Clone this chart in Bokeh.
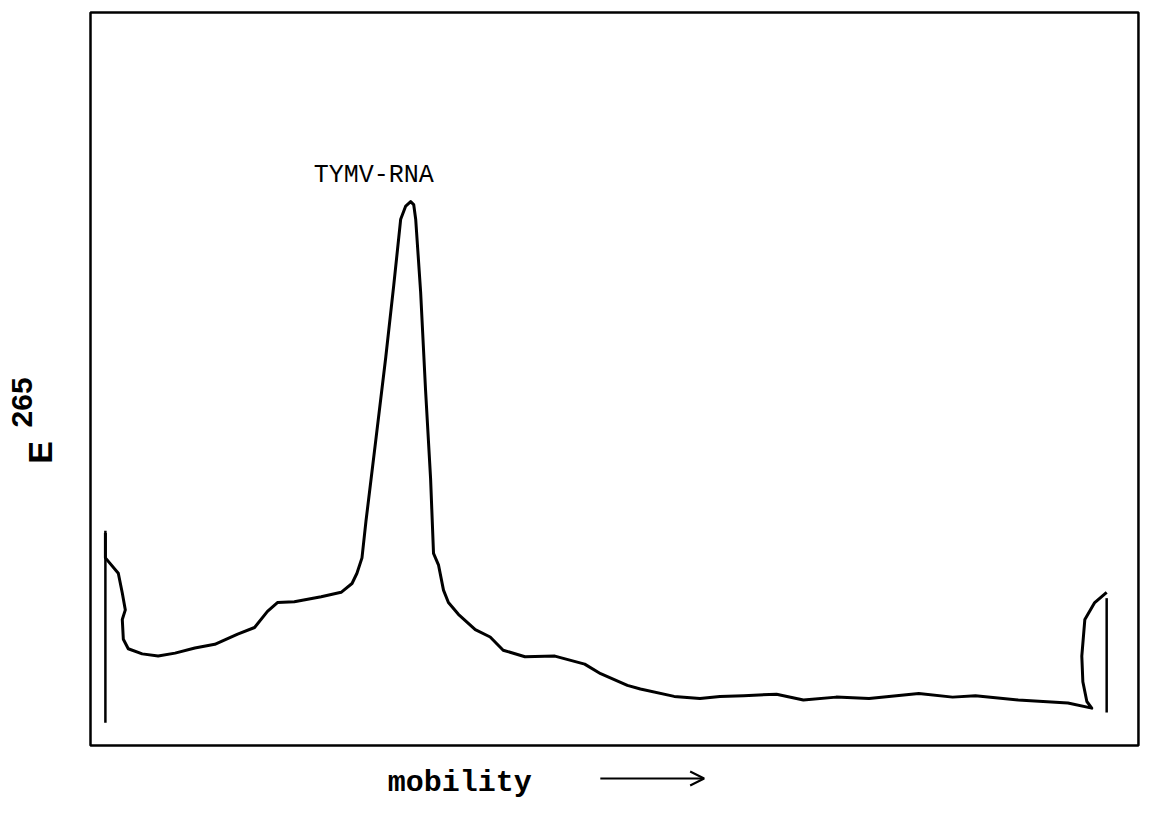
import math
from bokeh.plotting import figure
from bokeh.models import Arrow, OpenHead, Range1d
from bokeh.core.properties import value
from bokeh.embed import file_html
from bokeh.resources import INLINE

# ---- data (mobility in % of lane, E265 in arbitrary units) ----
mobility = [1.42, 1.42, 2.65, 3.03, 3.32, 3.03, 3.13, 3.60, 4.93, 6.45, 8.06, 9.95,
            11.85, 14.03, 15.64, 16.87, 17.82, 19.43, 21.99, 23.89, 24.93, 25.40, 25.88,
            26.26, 27.20, 28.15, 28.91, 29.57, 30.05, 30.52, 30.81, 31.00, 31.47, 31.94,
            32.42, 32.70, 33.18, 33.65, 34.12, 35.07, 36.68, 38.10, 39.34, 41.42, 44.27,
            47.11, 48.63, 51.18, 52.42, 55.64, 58.10, 60.00, 62.27, 65.40, 67.96, 71.09,
            74.22, 78.96, 82.18, 84.36, 88.44, 93.18, 95.45, 94.98, 94.60, 94.50, 94.79,
            95.73, 96.87]
absorbance = [29.0, 25.6, 23.5, 20.8, 18.5, 17.2, 14.5, 13.2, 12.5, 12.2, 12.6, 13.3,
              13.8, 15.2, 16.1, 18.3, 19.5, 19.6, 20.3, 20.9, 22.1, 23.5, 25.6,
              30.6, 41.7, 53.0, 62.8, 71.8, 73.6, 74.2, 73.8, 71.8, 61.9, 48.5,
              36.4, 26.2, 24.6, 21.2, 19.5, 17.9, 15.8, 14.8, 13.0, 12.1, 12.2,
              11.1, 9.8, 8.2, 7.7, 6.7, 6.4, 6.7, 6.8, 7.0, 6.2, 6.6,
              6.4, 7.1, 6.6, 6.8, 6.2, 5.8, 5.1, 6.0, 8.7, 12.2, 17.2,
              19.5, 20.9]

# start / end markers of the scan
marker_x = [1.42, 96.87]
marker_bottom = [3.1, 4.5]
marker_top = [29.3, 20.1]

peak_label = "TYMV-RNA"
x_label = "mobility"
y_label_main = "E"
y_label_sup = "265"

# plotting box (data units)
box_left, box_right, box_bottom, box_top = 0, 99.9, 0, 100

W, H = 1141, 804
px_x = 10.49   # pixels per mobility unit
px_y = 7.33    # pixels per E unit
left_px, top_px = 90, 12

p = figure(width=W, height=H, output_backend="svg", toolbar_location=None,
           x_range=Range1d(-left_px / px_x, (W - left_px) / px_x),
           y_range=Range1d(100 - (H - top_px) / px_y, 100 + top_px / px_y),
           x_axis_type=None, y_axis_type=None,
           min_border=0, min_border_left=0, min_border_right=0,
           min_border_top=0, min_border_bottom=0)
p.grid.visible = False
p.outline_line_color = None
p.background_fill_color = "white"
p.border_fill_color = "white"

# frame of the recorder chart
p.quad(left=[box_left], right=[box_right], bottom=[box_bottom], top=[box_top],
       fill_color=None, line_color="black", line_width=2.5)

p.line(mobility, absorbance, line_color="black", line_width=3, line_join="round")
p.segment(x0=marker_x, y0=marker_bottom, x1=marker_x, y1=marker_top,
          line_color="black", line_width=2.5)

p.text(x=[27.0], y=[77.8], text=[peak_label], text_font=value("Liberation Mono"),
       text_font_size="25px", text_align="center", text_baseline="alphabetic",
       text_color="black")

p.text(x=[35.2], y=[-5.05], text=[x_label], text_font=value("Liberation Mono"),
       text_font_style="bold", text_font_size="30px", text_align="center",
       text_baseline="alphabetic", text_color="black")
p.add_layout(Arrow(x_start=48.6, y_start=-4.5, x_end=58.5, y_end=-4.5,
                   line_color="black", line_width=2,
                   end=OpenHead(size=14, line_color="black", line_width=2)))

p.text(x=[-4.77], y=[40.0], text=[y_label_main], text_font=value("Liberation Sans"),
       text_font_style="bold", text_font_size="34px", angle=math.pi / 2,
       text_align="center", text_baseline="middle", text_color="black")
p.text(x=[-6.5], y=[46.8], text=[y_label_sup], text_font=value("Liberation Sans"),
       text_font_style="bold", text_font_size="30px", angle=math.pi / 2,
       text_align="center", text_baseline="middle", text_color="black")

open("out.html", "w").write(file_html(p, INLINE))
